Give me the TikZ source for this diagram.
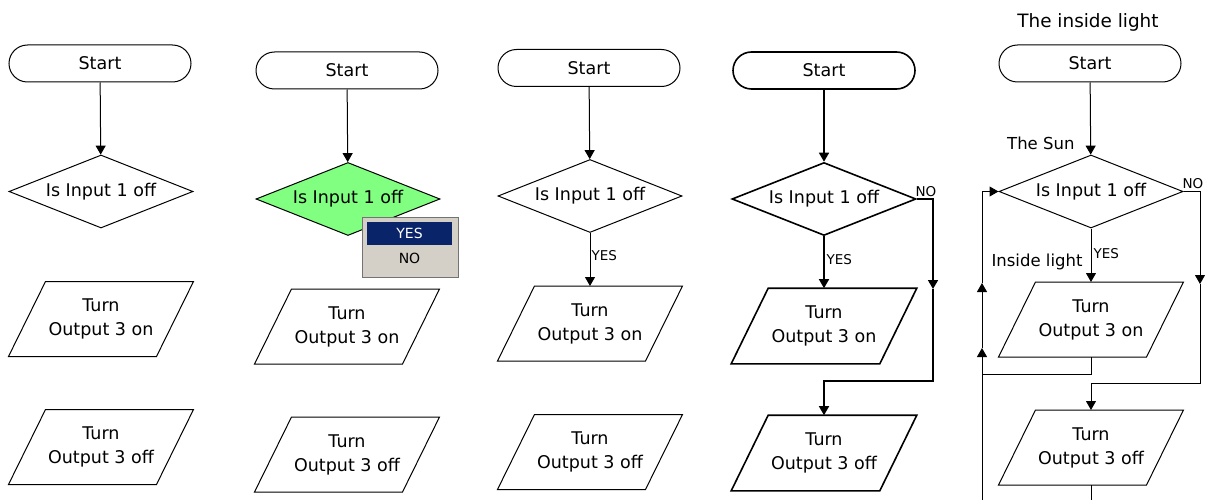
\documentclass[tikz,border=0pt]{standalone}
\usepackage{fontspec}
\setmainfont{DejaVu Sans}
\usetikzlibrary{shapes.geometric,arrows.meta}
\definecolor{popgreen}{RGB}{128,255,128}
\definecolor{wingray}{RGB}{212,208,200}
\definecolor{winblue}{RGB}{10,36,106}

\begin{document}
\begin{tikzpicture}[x=1pt,y=-1pt,line width=1pt,
  every node/.style={font=\fontsize{17.5}{24}\selectfont},
  term/.style={draw,rectangle,rounded corners=18.5pt,minimum width=182pt,minimum height=37pt,inner sep=0pt},
  decide/.style={draw,diamond,aspect=2.5,minimum width=184pt,minimum height=73pt,inner sep=0pt},
  io/.style={rectangle,minimum width=147pt,minimum height=74pt,inner sep=0pt,align=center,
    append after command={\pgfextra{\draw ([xshift=-18.5pt]\tikzlastnode.south west)
      -- ([xshift=18.5pt]\tikzlastnode.north west) -- ([xshift=18.5pt]\tikzlastnode.north east)
      -- ([xshift=-18.5pt]\tikzlastnode.south east) -- cycle;}}},
  flow/.style={-{Triangle[width=10pt,length=9pt]}},
  tag/.style={font=\fontsize{13.5}{15}\selectfont,inner sep=0pt},
  note/.style={font=\fontsize{16.5}{20}\selectfont,inner sep=0pt}]
\useasboundingbox (0,0) rectangle (1208,500);

% first chart: nothing joined yet
\node[term] (s1) at (100,63.5) {Start};
\node[decide] (d1) at (101,191.5) {Is Input 1 off};
\node[io] (p1a) at (101,319) {Turn\\Output 3 on};
\node[io] (p1b) at (101,447) {Turn\\Output 3 off};
\draw[flow] (s1) -- (d1);

% second chart: decision picked
\node[term] (s2) at (347,70.5) {Start};
\node[decide,fill=popgreen] (d2) at (348,199) {Is Input 1 off};
\node[io] (p2a) at (347,326.5) {Turn\\Output 3 on};
\node[io] (p2b) at (347,454.5) {Turn\\Output 3 off};
\draw[flow] (s2) -- (d2);
\node[fill=wingray,draw=black!55,minimum width=96pt,minimum height=60pt,inner sep=0pt] (menu) at (410,247) {};
\node[fill=winblue,text=white,minimum width=85pt,minimum height=23pt,inner sep=0pt,
  font=\fontsize{14}{16}\selectfont] (menuyes) at (409.5,233.5) {YES};
\node[font=\fontsize{14}{16}\selectfont,inner sep=0pt] (menuno) at (409.5,258.5) {NO};

% third chart: YES joined
\node[term] (s3) at (589,68) {Start};
\node[decide] (d3) at (590,196) {Is Input 1 off};
\node[io] (p3a) at (590,323.5) {Turn\\Output 3 on};
\node[io] (p3b) at (590,452) {Turn\\Output 3 off};
\draw[flow] (s3) -- (d3);
\draw[flow] (d3) -- (p3a);
\node[tag,anchor=west] (yes3) at (591,256) {YES};

% fourth chart: NO joined too
\begin{scope}[line width=1.6pt]
\node[term] (s4) at (824,70.5) {Start};
\node[decide] (d4) at (824,199) {Is Input 1 off};
\node[io] (p4a) at (824,326) {Turn\\Output 3 on};
\node[io] (p4b) at (824,453) {Turn\\Output 3 off};
\coordinate (no4) at (933,199);
\coordinate (mid4) at (933,289);
\coordinate (join4) at (933,381);
\draw[flow] (s4) -- (d4);
\draw[flow] (d4) -- (p4a);
\draw[flow] (d4.east) -- (no4) -- (mid4);
\draw[flow] (mid4) -- (join4) -| (p4b.north);
\end{scope}
\node[tag,anchor=west] (yes4) at (826,260) {YES};
\node[tag,anchor=south west] (nolbl4) at (915,197) {NO};

% fifth chart: the inside light
\node[font=\fontsize{18.4}{22}\selectfont,inner sep=0pt] (title5) at (1088,22) {The inside light};
\node[term] (s5) at (1090,63.5) {Start};
\node[decide] (d5) at (1091,191.5) {Is Input 1 off};
\node[io] (p5a) at (1091,319.5) {Turn\\Output 3 on};
\node[io] (p5b) at (1091,447.5) {Turn\\Output 3 off};
\coordinate (no5) at (1200,191.5);
\coordinate (mid5) at (1200,284);
\coordinate (join5) at (1200,383);
\coordinate (back5) at (982,374);
\coordinate (low5) at (982,500);
\coordinate (upb5) at (982,348);
\coordinate (upa5) at (982,283);
\coordinate (end5) at (1091,500);
\draw[flow] (s5) -- (d5);
\draw[flow] (d5) -- (p5a);
\draw[flow] (d5.east) -- (no5) -- (mid5);
\draw[flow] (mid5) -- (join5) -| (p5b.north);
\draw (p5a.south) |- (back5);
\draw (p5b.south) -- (end5);
\draw[flow] (low5) -- (upb5);
\draw[flow] (upb5) -- (upa5);
\draw[flow] (upa5) |- (d5.west);
\node[note,anchor=east] (sun5) at (1075,143) {The Sun};
\node[note,anchor=east] (inlight5) at (1083,262) {Inside light};
\node[tag,anchor=west] (yes5) at (1093,254) {YES};
\node[tag,anchor=south west] (nolbl5) at (1182,189) {NO};
\end{tikzpicture}
\end{document}
